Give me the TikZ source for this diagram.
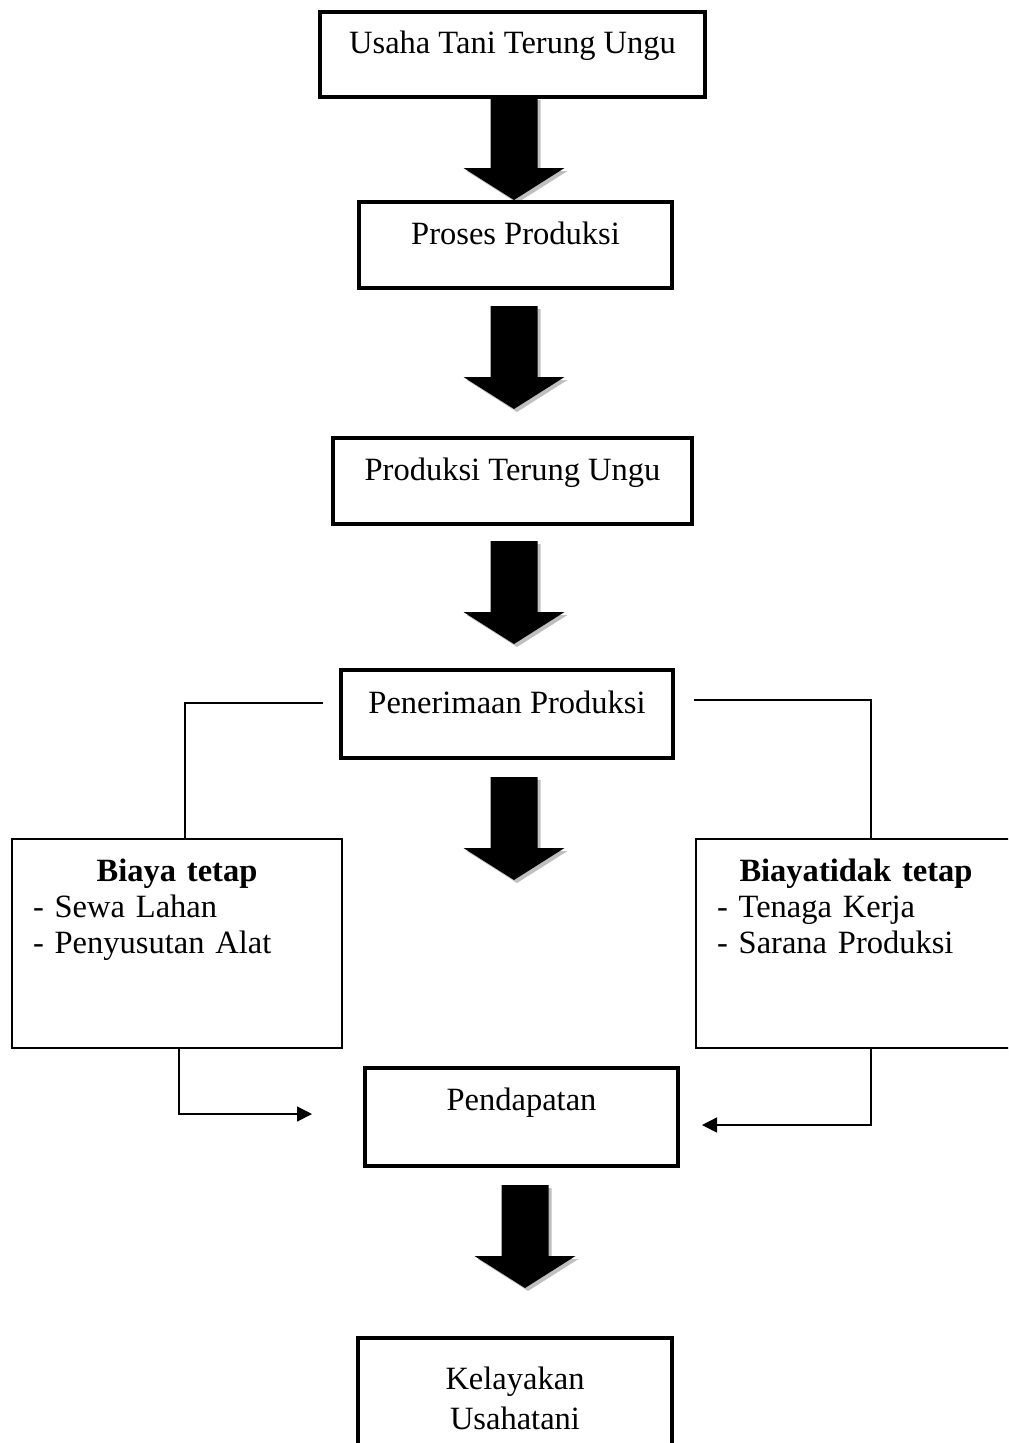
\documentclass[tikz,border=0pt]{standalone}
\usepackage{fontspec}
\setmainfont{Liberation Serif}
\usetikzlibrary{arrows.meta,positioning}
\tikzset{
  flowbox/.style  = {rectangle, draw, line width=2.3pt, inner sep=0pt,
                     font=\fontsize{18.5}{22.7}\selectfont},
  stepbox/.style  = {flowbox, text height=13pt, text depth=14pt},
  costbox/.style  = {rectangle, draw, line width=1.1pt, minimum height=4.18cm},
  costtext/.style = {inner sep=0pt, font=\fontsize{18.5}{20.4}\selectfont},
  link/.style     = {line width=0.9pt},
  linkarr/.style  = {link, -{Triangle[length=3mm, width=3mm]}},
  bigarrow/.pic   = {
    \foreach \sh/\shcol in {3/black!25, 0/black}
      \fill[\shcol, shift={(\sh,\sh)}] (-23.5,0) -- (23.5,0) -- (23.5,71)
        -- (50.5,71) -- (0,103) -- (-50.5,71) -- (-23.5,71) -- cycle;
  }
}
\begin{document}
\begin{tikzpicture}[x=0.02cm, y=-0.02cm]
  \useasboundingbox (0,0) rectangle (1008,1443);
  \clip (0,0) rectangle (1008,1443);

  % block arrows
  \pic (a1) at (514,97)   {bigarrow};
  \pic (a2) at (514,306)  {bigarrow};
  \pic (a3) at (514,541)  {bigarrow};
  \pic (a4) at (514,777)  {bigarrow};
  \pic (a5) at (525,1185) {bigarrow};

  % main flow
  \node[stepbox, minimum width=7.7cm, minimum height=1.7cm] (usaha) at (512.5,54.5) {Usaha Tani Terung Ungu};
  \node[stepbox, minimum width=6.26cm, minimum height=1.72cm] (proses) at (515.5,245) {Proses Produksi};
  \node[stepbox, minimum width=7.18cm, minimum height=1.72cm] (produksi) at (512.5,481) {Produksi Terung Ungu};
  \node[stepbox, minimum width=6.64cm, minimum height=1.76cm] (penerimaan) at (507,714) {Penerimaan Produksi};
  \node[stepbox, text depth=20pt, minimum width=6.26cm, minimum height=1.96cm] (pendapatan) at (521.5,1117) {Pendapatan};
  \node[flowbox, align=center, minimum width=6.28cm, minimum height=2.4cm] (kelayakan) at (515,1398) {Kelayakan\\Usahatani};

  % cost boxes
  \node[costbox, minimum width=6.6cm] (tetap) at (177,943.5) {};
  \node[costbox, minimum width=6.4cm] (tidaktetap) at (856,943.5) {};
  \node[costtext, text width=5.76cm, below=0.42cm of tetap.north] (tetaptxt)
    {{\centering\textbf{Biaya tetap}\par}\raggedright- Sewa Lahan\par- Penyusutan Alat};
  \node[costtext, text width=5.56cm, below=0.42cm of tidaktetap.north] (tidaktetaptxt)
    {{\centering\textbf{Biayatidak tetap}\par}\raggedright- Tenaga Kerja\par- Sarana Produksi};

  % connectors
  \coordinate (lstart) at (323,703);
  \coordinate (rstart) at (694,700);
  \coordinate (ltip) at (312,1114);
  \coordinate (rtip) at (702,1125);
  \draw[link] (lstart) -| ([xshift=0.16cm]tetap.north);
  \draw[link] (rstart) -| ([xshift=0.3cm]tidaktetap.north);
  \draw[linkarr] ([xshift=0.04cm]tetap.south) |- (ltip);
  \draw[linkarr] ([xshift=0.3cm]tidaktetap.south) |- (rtip);
\end{tikzpicture}
\end{document}
